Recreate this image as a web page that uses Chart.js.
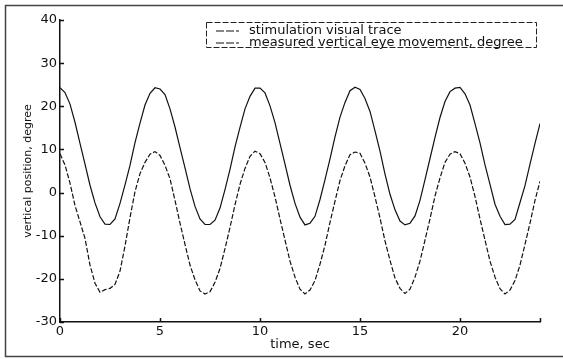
<!DOCTYPE html>
<html>
<head>
<meta charset="utf-8">
<script src="https://cdn.jsdelivr.net/npm/chart.js@4.4.1/dist/chart.umd.min.js"></script>
<style>
  html, body { margin: 0; padding: 0; background: #fff; }
  #wrap { position: relative; width: 563px; height: 359px; }
  #legend {
    position: absolute; left: 206px; top: 22px; width: 331px; height: 26px;
    font: 13px "DejaVu Sans", sans-serif; color: #111;
  }
  #legend svg.box { position: absolute; left: 0; top: 0; }
  #legend .row { position: absolute; left: 10px; height: 13px; line-height: 13px; white-space: nowrap; }
  #legend .row svg { vertical-align: middle; margin-right: 10px; }
</style>
</head>
<body>
<div id="wrap">
  <canvas id="chart" width="563" height="359"></canvas>
  <div id="legend"></div>
</div>
<script>
// time axis, sec
const time = [
  0, 0.25, 0.5, 0.75, 1, 1.25, 1.5, 1.75, 2, 2.25, 2.5, 2.75, 3, 3.25, 3.5, 3.75, 4, 4.25, 4.5, 4.75,
  5, 5.25, 5.5, 5.75, 6, 6.25, 6.5, 6.75, 7, 7.25, 7.5, 7.75, 8, 8.25, 8.5, 8.75, 9, 9.25, 9.5, 9.75,
  10, 10.25, 10.5, 10.75, 11, 11.25, 11.5, 11.75, 12, 12.25, 12.5, 12.75, 13, 13.25, 13.5, 13.75, 14, 14.25, 14.5, 14.75,
  15, 15.25, 15.5, 15.75, 16, 16.25, 16.5, 16.75, 17, 17.25, 17.5, 17.75, 18, 18.25, 18.5, 18.75, 19, 19.25, 19.5, 19.75,
  20, 20.25, 20.5, 20.75, 21, 21.25, 21.5, 21.75, 22, 22.25, 22.5, 22.75, 23, 23.25, 23.5, 23.75, 24
];

// stimulation visual trace (upper curve), degree
const stimulation = [
  24.3, 23.2, 20.5, 16.3, 11.4, 6.6, 1.7, -2.4, -5.6, -7.3, -7.4, -6.1, -2.5, 1.8, 6.3, 11.6, 16.1, 20.3, 23.0, 24.3,
  24.0, 22.7, 19.4, 15.2, 10.4, 5.7, 0.9, -3.2, -6.1, -7.4, -7.4, -6.4, -3.6, 0.7, 5.4, 10.6, 15.1, 19.4, 22.3, 24.2,
  24.2, 23.1, 20.1, 16.2, 11.4, 6.6, 1.7, -2.5, -5.7, -7.5, -7.1, -5.5, -1.6, 3.0, 7.8, 12.9, 17.5, 20.9, 23.6, 24.4,
  23.9, 21.8, 18.8, 14.3, 9.6, 4.3, -0.4, -4.0, -6.6, -7.5, -7.1, -5.4, -1.8, 3.0, 7.9, 12.8, 17.4, 21.1, 23.4, 24.2,
  24.4, 22.9, 20.3, 16.0, 11.5, 6.4, 1.9, -2.7, -5.5, -7.4, -7.3, -6.2, -2.3, 1.6, 6.6, 11.4, 16.0
];

// measured vertical eye movement (lower curve), degree
const measured = [
  9.0, 6.4, 2.2, -3.0, -6.8, -10.6, -16.8, -21.0, -23.1, -22.5, -22.2, -21.3, -18.2, -12.4, -5.8, 0.2, 4.4, 7.0, 8.9, 9.5,
  8.6, 6.3, 3.2, -1.8, -7.1, -12.0, -16.8, -20.2, -22.8, -23.5, -23.0, -20.8, -17.6, -13.0, -8.1, -2.8, 1.9, 5.6, 8.4, 9.6,
  9.0, 7.0, 3.4, -1.0, -6.1, -11.0, -15.9, -19.6, -22.4, -23.5, -22.6, -20.4, -16.6, -12.2, -6.9, -2.0, 2.8, 6.2, 8.8, 9.4,
  9.1, 6.8, 3.6, -1.0, -5.9, -11.2, -15.7, -19.8, -22.2, -23.4, -22.4, -19.6, -15.9, -11.0, -6.1, -0.8, 3.4, 7.0, 8.9, 9.5,
  9.0, 6.8, 3.6, -0.9, -6.1, -11.0, -15.9, -19.6, -22.3, -23.5, -22.6, -20.4, -16.8, -12.0, -7.1, -1.8, 2.6
];

const seriesLabels = ["stimulation visual trace", "measured vertical eye movement, degree"];
const xTicks = [0, 5, 10, 15, 20];
const yTicks = [-30, -20, -10, 0, 10, 20, 30, 40];

const FONT = "'DejaVu Sans', sans-serif";
const INK = "#111";

function toPoints(values) {
  return values.map((v, i) => ({ x: time[i], y: v }));
}

// small inward tick marks + the outer picture frame
const axisDecor = {
  id: "axisDecor",
  afterDraw(chart) {
    const { ctx, chartArea, scales } = chart;
    const x = scales.x, y = scales.y;
    ctx.save();
    ctx.strokeStyle = INK;
    ctx.lineWidth = 1.5;
    ctx.beginPath();
    y.ticks.forEach(t => {
      const py = Math.round(y.getPixelForValue(t.value)) + 0.5;
      ctx.moveTo(chartArea.left, py);
      ctx.lineTo(chartArea.left + 4, py);
    });
    x.ticks.forEach(t => {
      const px = Math.round(x.getPixelForValue(t.value)) + 0.5;
      ctx.moveTo(px, chartArea.bottom);
      ctx.lineTo(px, chartArea.bottom - 4);
    });
    ctx.stroke();

    ctx.strokeStyle = "#444";
    ctx.lineWidth = 1.5;
    ctx.beginPath();
    ctx.moveTo(600, 5.5);
    ctx.lineTo(5.5, 5.5);
    ctx.lineTo(5.5, 356.5);
    ctx.lineTo(600, 356.5);
    ctx.stroke();
    ctx.restore();
  }
};

function buildLegend() {
  const box = document.getElementById("legend");
  box.innerHTML = `<svg class="box" width="331" height="26">
      <rect x="0.5" y="0.5" width="330" height="25" fill="none" stroke="#222" stroke-width="1" stroke-dasharray="6,2"/>
    </svg>`;
  seriesLabels.forEach((label, i) => {
    const row = document.createElement("div");
    row.className = "row";
    row.style.top = (i === 0 ? 1 : 13) + "px";
    row.innerHTML = `<svg width="23" height="4"><line x1="0" y1="2" x2="23" y2="2" stroke="#111" stroke-width="1.2" stroke-dasharray="8,2"/></svg>${label}`;
    box.appendChild(row);
  });
}

document.addEventListener("DOMContentLoaded", () => {
  buildLegend();

  new Chart(document.getElementById("chart"), {
    type: "line",
    data: {
      datasets: [
        {
          label: seriesLabels[0],
          data: toPoints(stimulation),
          borderColor: INK,
          borderWidth: 1.2,
          pointRadius: 0,
          tension: 0
        },
        {
          label: seriesLabels[1],
          data: toPoints(measured),
          borderColor: INK,
          borderWidth: 1.2,
          borderDash: [5, 2],
          pointRadius: 0,
          tension: 0
        }
      ]
    },
    options: {
      responsive: false,
      animation: false,
      devicePixelRatio: 1,
      layout: { padding: { left: 0, right: 23, top: 20, bottom: 0 } },
      plugins: {
        legend: { display: false },
        tooltip: { enabled: false }
      },
      scales: {
        x: {
          type: "linear",
          position: "bottom",
          min: 0,
          max: 24,
          afterBuildTicks: s => { s.ticks = xTicks.concat([24]).map(v => ({ value: v })); },
          afterFit: s => { s.height = 37; },
          grid: { display: false, drawTicks: false },
          border: { display: true, color: INK, width: 1.5 },
          ticks: {
            padding: 2,
            color: INK,
            font: { family: FONT, size: 13 },
            callback: v => (xTicks.includes(v) ? v : "")
          },
          title: {
            display: true,
            text: "time, sec",
            color: INK,
            font: { family: FONT, size: 13 },
            padding: { top: 0, bottom: 7 }
          }
        },
        y: {
          min: -30,
          max: 40,
          afterBuildTicks: s => { s.ticks = yTicks.map(v => ({ value: v })); },
          afterFit: s => { s.width = 60; },
          grid: { display: false, drawTicks: false },
          border: { display: true, color: INK, width: 1.5 },
          ticks: {
            padding: 3,
            color: INK,
            font: { family: FONT, size: 13 }
          },
          title: {
            display: true,
            text: "vertical position, degree",
            color: INK,
            font: { family: FONT, size: 11 },
            padding: { top: 22, bottom: 0 }
          }
        }
      }
    },
    plugins: [axisDecor]
  });
});
</script>
</body>
</html>
